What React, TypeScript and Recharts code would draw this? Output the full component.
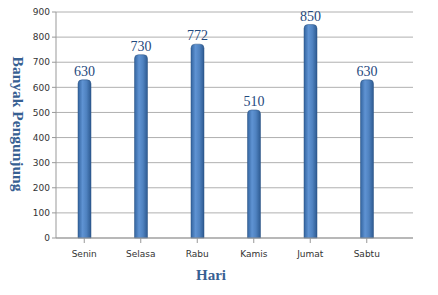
import React from 'react';
import { BarChart, Bar, XAxis, YAxis, CartesianGrid, LabelList } from 'recharts';

// chart data
const days = ['Senin', 'Selasa', 'Rabu', 'Kamis', 'Jumat', 'Sabtu'];
const visitors = [630, 730, 772, 510, 850, 630];
const yTicks = [0, 100, 200, 300, 400, 500, 600, 700, 800, 900];

const data = days.map((d, i) => ({ day: d, value: visitors[i] }));

const titleColor = '#376092';
const labelColor = '#1f497d';

export default function App() {
  return (
    <div style={{ position: 'absolute', left: 0, top: 0, width: 438, height: 295, background: '#fff' }}>
      <BarChart
        width={438}
        height={295}
        data={data}
        margin={{ top: 12, right: 25, bottom: 0, left: 0 }}
      >
        <defs>
          <linearGradient id="barFill" x1="0" y1="0" x2="1" y2="0">
            <stop offset="0%" stopColor="#33649f" />
            <stop offset="35%" stopColor="#5f93d3" />
            <stop offset="65%" stopColor="#4f82c0" />
            <stop offset="100%" stopColor="#2d5a91" />
          </linearGradient>
        </defs>
        <CartesianGrid vertical={false} stroke="#b0b0b0" />
        <XAxis
          dataKey="day"
          height={57}
          padding={{ left: 0, right: 18 }}
          stroke="#999"
          tickSize={5}
          tick={{ fontSize: 9, fill: '#333', fontFamily: 'DejaVu Sans' }}
          tickMargin={8}
        />
        <YAxis
          width={56}
          domain={[0, 900]}
          ticks={yTicks}
          interval={0}
          stroke="#999"
          tickSize={4}
          tick={{ fontSize: 9, fill: '#333', fontFamily: 'DejaVu Sans' }}
        />
        <Bar dataKey="value" fill="url(#barFill)" stroke="#2a5283" strokeWidth={0.5} barSize={13} radius={[4, 4, 0, 0]} isAnimationActive={false}>
          <LabelList dataKey="value" position="top" offset={4} style={{ fontSize: 14, fill: labelColor, fontFamily: 'Liberation Serif' }} />
        </Bar>
      </BarChart>
      <div
        style={{
          position: 'absolute',
          left: 18,
          top: 124,
          transform: 'translate(-50%, -50%) rotate(90deg)',
          whiteSpace: 'nowrap',
          fontFamily: 'Liberation Serif',
          fontWeight: 'bold',
          fontSize: 15.5,
          color: titleColor,
        }}
      >
        Banyak Pengunjung
      </div>
      <div
        style={{
          position: 'absolute',
          left: 211,
          top: 275,
          transform: 'translate(-50%, -50%)',
          fontFamily: 'Liberation Serif',
          fontWeight: 'bold',
          fontSize: 15,
          color: titleColor,
        }}
      >
        Hari
      </div>
    </div>
  );
}
